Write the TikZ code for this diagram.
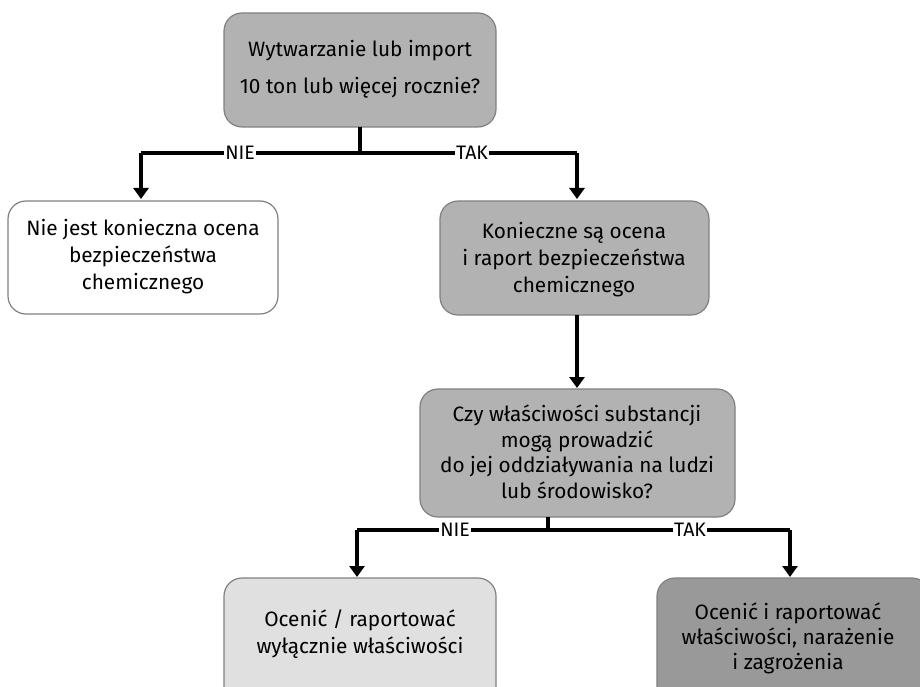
\documentclass[tikz,border=0pt]{standalone}
\usepackage{fontspec}
\setmainfont{Fira Sans}
\usetikzlibrary{arrows.meta}
\begin{document}
\begin{tikzpicture}[x=1pt,y=-1pt,
  box/.style={draw=black!50, line width=1.2pt, rounded corners=18pt, align=center,
    font=\fontsize{20.8}{27}\selectfont},
  flow/.style={line width=3.2pt, -{Triangle[width=15pt,length=11pt]}},
  bar/.style={line width=3.2pt},
  lbl/.style={fill=white, inner sep=1pt, font=\fontsize{19.5}{20}\selectfont}]
\useasboundingbox (0,0) rectangle (920,687);
\clip (0,0) rectangle (920,687);
% decision and result boxes
\draw[box, fill=black!30] (224,13) rectangle (496,127);
\node[box, draw=none, font=\fontsize{20.8}{37}\selectfont] (q1) at (360,69) {Wytwarzanie lub import\\10 ton lub więcej rocznie?};
\draw[box, fill=white] (8,201) rectangle (278,314);
\node[box, draw=none] (no1) at (143,257) {Nie jest konieczna ocena\\bezpieczeństwa\\chemicznego};
\draw[box, fill=black!30] (440,201) rectangle (709,315);
\node[box, draw=none] (yes1) at (574,260) {Konieczne są ocena\\i raport bezpieczeństwa\\chemicznego};
\draw[box, fill=black!30] (420,389) rectangle (735,517);
\node[box, draw=none, font=\fontsize{20.8}{25.5}\selectfont] (q2) at (577,452) {Czy właściwości substancji\\mogą prowadzić\\do jej oddziaływania na ludzi\\lub środowisko?};
\draw[box, fill=black!12] (224,578) rectangle (496,705);
\node[box, draw=none] (no2) at (360,634) {Ocenić / raportować\\wyłącznie właściwości};
\draw[box, fill=black!40] (657,578) rectangle (930,705);
\node[box, draw=none, font=\fontsize{20.8}{25}\selectfont] (yes2) at (788,638) {Ocenić i raportować\\właściwości, narażenie\\i zagrożenia};
% branch points
\coordinate (j1) at (360,153);
\coordinate (j1l) at (141,153);
\coordinate (j1r) at (577,153);
\coordinate (j2) at (548,530);
\coordinate (j2l) at (357,530);
\coordinate (j2r) at (790,530);
% connectors
\draw[bar] (360,127) -- (j1);
\draw[bar] (j1l) -- (j1r);
\draw[flow] (j1l) -- (141,199);
\draw[flow] (j1r) -- (577,199);
\node[lbl] (n1) at (240,153) {NIE};
\node[lbl] (t1) at (472,153) {TAK};
\draw[flow] (577,315) -- (577,388);
\draw[bar] (548,517) -- (j2);
\draw[bar] (j2l) -- (j2r);
\draw[flow] (j2l) -- (357,577);
\draw[flow] (j2r) -- (790,577);
\node[lbl] (n2) at (455,530) {NIE};
\node[lbl] (t2) at (690,530) {TAK};
\end{tikzpicture}
\end{document}
